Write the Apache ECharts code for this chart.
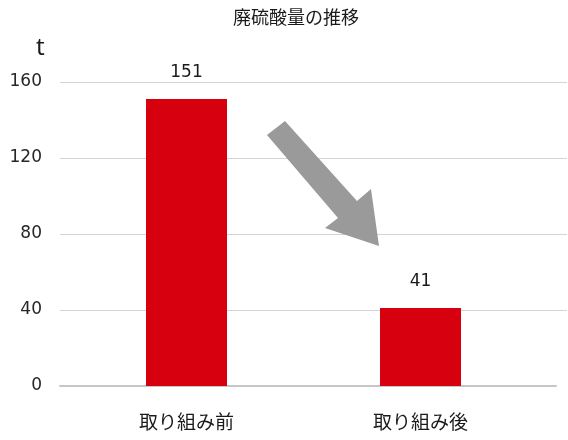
<!DOCTYPE html>
<html><head><meta charset="utf-8">
<script src="https://cdn.jsdelivr.net/npm/echarts@6/dist/echarts.min.js"></script>
<style>html,body{margin:0;padding:0;background:#fff}#c{width:568px;height:440px}</style>
</head><body><div id="c"></div>
<script>
const titleText = '廃硫酸量の推移';
const unitText = 't';
const categories = ['取り組み前', '取り組み後'];
const values = [151, 41];
const yMin = 0, yMax = 160, yStep = 40;

const chart = echarts.init(document.getElementById('c'), null, {renderer: 'canvas'});
const TOP = 82, BOTTOM = 54;
const numFont = 'DejaVu Sans, Verdana, sans-serif';
const cjkFont = '"Noto Sans CJK JP", sans-serif';
chart.setOption({
  animation: false,
  backgroundColor: '#fff',
  title: [
    {text: titleText, left: 228, top: 3, textStyle: {fontFamily: cjkFont, fontSize: 18, fontWeight: 'normal', color: '#1a1a1a'}},
    {text: unitText, left: 31, top: 31, textStyle: {fontFamily: 'Noto Sans, sans-serif', fontSize: 24, fontWeight: 'normal', color: '#1a1a1a'}}
  ],
  grid: [
    {left: 60, right: 1, top: TOP, bottom: BOTTOM},
    {left: 60, right: 12, top: TOP, bottom: BOTTOM},
    {left: 69.5, right: 30.5, top: TOP, bottom: BOTTOM}
  ],
  xAxis: [
    {gridIndex: 0, type: 'value', min: 0, max: 1, show: false},
    {gridIndex: 1, type: 'category', data: categories, axisLine: {show: true, lineStyle: {color: '#c6c6c6', width: 2}}, axisTick: {show: false}, axisLabel: {show: false}, splitLine: {show: false}},
    {gridIndex: 2, type: 'category', data: categories, axisLine: {show: false}, axisTick: {show: false},
      axisLabel: {margin: 26, fontFamily: cjkFont, fontSize: 19, color: '#1a1a1a'}}
  ],
  yAxis: [
    {gridIndex: 0, type: 'value', min: yMin, max: yMax, interval: yStep,
      axisLine: {show: false}, axisTick: {show: false},
      axisLabel: {margin: 18, fontFamily: numFont, fontSize: 17, color: '#262626', padding: [4, 0, 0, 0]},
      splitLine: {show: true, showMinLine: false, lineStyle: {color: '#d4d4d4', width: 1}}},
    {gridIndex: 1, type: 'value', min: yMin, max: yMax, interval: yStep, show: false},
    {gridIndex: 2, type: 'value', min: yMin, max: yMax, interval: yStep, show: false}
  ],
  series: [{
    type: 'bar', xAxisIndex: 2, yAxisIndex: 2, data: values, barWidth: 81,
    itemStyle: {color: '#d7000f'},
    label: {show: true, position: 'top', distance: 18, fontFamily: numFont, fontSize: 17, color: '#1a1a1a'}
  }],
  graphic: [{
    type: 'polygon', z: 10,
    shape: {points: [[285,121],[357,201],[371,189],[379,246],[325,228],[338,218],[267,135]]},
    style: {fill: '#9a9a9a'}
  }]
});
</script></body></html>
